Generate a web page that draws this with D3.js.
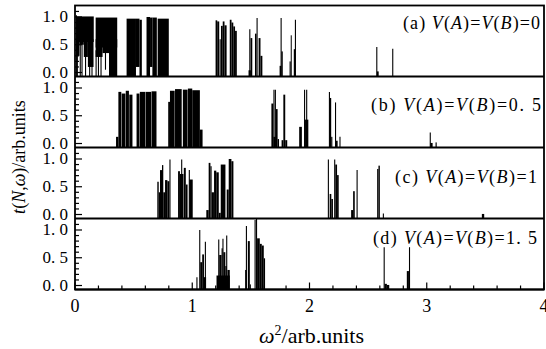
<!DOCTYPE html>
<html>
<head>
<meta charset="utf-8">
<script src="https://cdn.jsdelivr.net/npm/d3@7"></script>
<style>
  body { margin: 0; background: #fff; }
  svg { display: block; }
  text { font-family: "Liberation Serif", "Times New Roman", serif; fill: #000; }
</style>
</head>
<body>
<svg id="chart" width="546" height="349"></svg>
<script>
// Each segment: [x0, x1, lo, hi] in (omega^2, t). x0 === x1 -> a single spike.
const panelA = [
  [0.010, 0.160, 0.55, 1.01],
  [0.010, 0.038, 0.30, 0.60],
  [0.038, 0.075, 0.50, 0.60],
  [0.075, 0.110, 0.28, 0.60],
  [0.110, 0.158, 0.10, 0.60],
  [0.020, 0.020, 0.00, 0.40],
  [0.045, 0.045, 0.00, 0.55],
  [0.060, 0.060, 0.00, 0.55],
  [0.090, 0.090, 0.00, 0.30],
  [0.125, 0.125, 0.00, 0.20],
  [0.145, 0.145, 0.00, 0.20],
  [0.012, 0.012, 0.00, 1.03],
  [0.176, 0.360, 0.45, 0.99],
  [0.176, 0.235, 0.28, 0.60],
  [0.180, 0.180, 0.00, 0.40],
  [0.200, 0.200, 0.00, 0.30],
  [0.222, 0.222, 0.00, 0.30],
  [0.235, 0.290, 0.35, 0.60],
  [0.260, 0.260, 0.05, 0.50],
  [0.290, 0.360, 0.00, 0.60],
  [0.440, 0.520, 0.00, 0.97],
  [0.520, 0.550, 0.10, 0.97],
  [0.550, 0.570, 0.00, 0.95],
  [0.610, 0.640, 0.00, 1.00],
  [0.640, 0.660, 0.10, 0.99],
  [0.660, 0.698, 0.00, 0.99],
  [0.705, 0.800, 0.00, 0.97],
  [1.199, 1.213, 0.00, 0.94],
  [1.213, 1.230, 0.00, 0.92],
  [1.238, 1.238, 0.00, 0.60],
  [1.245, 1.260, 0.00, 0.84],
  [1.260, 1.275, 0.00, 0.92],
  [1.275, 1.293, 0.00, 0.85],
  [1.320, 1.335, 0.00, 0.95],
  [1.335, 1.350, 0.00, 0.90],
  [1.350, 1.365, 0.00, 0.83],
  [1.365, 1.380, 0.00, 0.75],
  [1.480, 1.500, 0.00, 0.04],
  [1.491, 1.491, 0.00, 0.78],
  [1.497, 1.512, 0.00, 0.62],
  [1.535, 1.548, 0.00, 0.70],
  [1.553, 1.553, 0.00, 0.98],
  [1.566, 1.582, 0.00, 0.62],
  [1.582, 1.598, 0.00, 0.30],
  [1.745, 1.760, 0.00, 0.12],
  [1.758, 1.758, 0.00, 0.98],
  [1.760, 1.772, 0.00, 0.38],
  [1.830, 1.840, 0.00, 0.20],
  [1.840, 1.848, 0.00, 0.67],
  [1.866, 1.878, 0.00, 0.42],
  [1.880, 1.880, 0.00, 0.95],
  [2.574, 2.574, 0.00, 0.46],
  [2.574, 2.590, 0.00, 0.02],
  [2.710, 2.710, 0.00, 0.43]
];

const panelB = [
  [0.350, 0.370, 0.00, 0.12],
  [0.370, 0.395, 0.00, 0.93],
  [0.398, 0.430, 0.00, 0.90],
  [0.433, 0.460, 0.00, 0.95],
  [0.463, 0.490, 0.00, 0.88],
  [0.525, 0.550, 0.00, 0.90],
  [0.553, 0.600, 0.00, 0.93],
  [0.603, 0.650, 0.00, 0.93],
  [0.653, 0.695, 0.00, 0.94],
  [0.795, 0.810, 0.00, 0.75],
  [0.810, 0.850, 0.00, 0.95],
  [0.853, 0.910, 0.00, 0.98],
  [0.920, 0.960, 0.00, 0.97],
  [0.963, 1.000, 0.00, 0.99],
  [1.000, 1.065, 0.00, 0.96],
  [1.065, 1.088, 0.00, 0.25],
  [1.675, 1.692, 0.00, 0.72],
  [1.697, 1.697, 0.00, 0.97],
  [1.692, 1.712, 0.00, 0.12],
  [1.709, 1.709, 0.00, 0.97],
  [1.714, 1.728, 0.00, 0.62],
  [1.728, 1.740, 0.00, 0.08],
  [1.762, 1.777, 0.00, 0.06],
  [1.777, 1.793, 0.00, 0.88],
  [1.793, 1.810, 0.00, 0.06],
  [1.912, 1.935, 0.00, 0.30],
  [1.958, 1.958, 0.00, 0.97],
  [1.962, 1.990, 0.00, 0.43],
  [1.976, 1.976, 0.00, 0.97],
  [2.170, 2.170, 0.00, 0.93],
  [2.172, 2.185, 0.00, 0.82],
  [2.185, 2.195, 0.00, 0.12],
  [2.222, 2.222, 0.00, 0.74],
  [2.225, 2.240, 0.00, 0.05],
  [2.260, 2.260, 0.00, 0.12],
  [3.030, 3.030, 0.00, 0.20],
  [3.030, 3.050, 0.00, 0.01],
  [3.075, 3.085, 0.00, 0.02]
];

const panelC = [
  [0.702, 0.714, 0.00, 0.59],
  [0.714, 0.725, 0.00, 0.40],
  [0.725, 0.742, 0.00, 0.80],
  [0.742, 0.753, 0.00, 0.89],
  [0.753, 0.768, 0.00, 0.40],
  [0.768, 0.788, 0.00, 0.62],
  [0.788, 0.805, 0.00, 0.60],
  [0.810, 0.810, 0.00, 0.99],
  [0.879, 0.895, 0.00, 0.78],
  [0.910, 0.910, 0.00, 0.99],
  [0.895, 0.925, 0.00, 0.73],
  [0.928, 0.945, 0.00, 0.84],
  [0.945, 0.960, 0.00, 0.54],
  [0.975, 0.975, 0.00, 0.80],
  [0.975, 1.004, 0.00, 0.63],
  [1.120, 1.140, 0.00, 0.08],
  [1.140, 1.155, 0.00, 0.93],
  [1.155, 1.165, 0.00, 0.87],
  [1.165, 1.185, 0.00, 0.40],
  [1.186, 1.205, 0.00, 0.79],
  [1.205, 1.226, 0.00, 0.76],
  [1.226, 1.243, 0.00, 0.03],
  [1.243, 1.283, 0.00, 0.90],
  [1.294, 1.311, 0.00, 0.45],
  [1.311, 1.334, 0.00, 1.00],
  [1.334, 1.351, 0.00, 0.96],
  [2.161, 2.161, 0.00, 0.99],
  [2.172, 2.186, 0.00, 0.37],
  [2.186, 2.200, 0.00, 0.28],
  [2.215, 2.215, 0.00, 0.99],
  [2.220, 2.235, 0.00, 0.90],
  [2.235, 2.249, 0.00, 0.71],
  [2.355, 2.372, 0.00, 0.08],
  [2.372, 2.386, 0.00, 0.42],
  [2.406, 2.406, 0.00, 0.80],
  [2.577, 2.588, 0.00, 0.82],
  [2.588, 2.600, 0.00, 0.88],
  [2.630, 2.630, 0.00, 0.02],
  [3.470, 3.490, 0.00, 0.01]
];

const panelD = [
  [1.040, 1.040, 0.00, 0.15],
  [1.064, 1.064, 0.00, 1.00],
  [1.068, 1.085, 0.00, 0.42],
  [1.085, 1.100, 0.00, 0.56],
  [1.100, 1.118, 0.00, 0.15],
  [1.112, 1.112, 0.00, 0.79],
  [1.207, 1.320, 0.00, 0.18],
  [1.226, 1.226, 0.00, 0.83],
  [1.230, 1.250, 0.00, 0.55],
  [1.250, 1.260, 0.00, 0.67],
  [1.262, 1.262, 0.00, 0.84],
  [1.265, 1.282, 0.00, 0.60],
  [1.282, 1.294, 0.00, 0.35],
  [1.294, 1.294, 0.00, 0.90],
  [1.300, 1.320, 0.00, 0.28],
  [1.451, 1.462, 0.00, 0.28],
  [1.462, 1.462, 0.00, 1.07],
  [1.474, 1.491, 0.00, 0.80],
  [1.491, 1.500, 0.00, 0.02],
  [1.536, 1.536, 0.00, 1.18],
  [1.543, 1.553, 0.00, 1.20],
  [1.553, 1.576, 0.00, 0.85],
  [1.576, 1.593, 0.00, 0.75],
  [1.593, 1.610, 0.00, 0.72],
  [1.610, 1.621, 0.00, 0.49],
  [2.637, 2.637, 0.00, 0.69],
  [2.640, 2.660, 0.00, 0.03],
  [2.660, 2.680, 0.00, 0.01],
  [2.830, 2.848, 0.00, 0.26],
  [2.853, 2.853, 0.00, 0.69]
];

const panelTags = ["(a)", "(b)", "(c)", "(d)"];
const panelValues = ["0", "0. 5", "1", "1. 5"];
const yTickValues = [0, 0.5, 1.0];
const yTickLabels = ["0. 0", "0. 5", "1. 0"];
const xTickValues = [0, 1, 2, 3, 4];

const series = [panelA, panelB, panelC, panelD];

const svg = d3.select("#chart");
const plotLeft = 75, plotRight = 544, plotTop = 5.5, panelH = 71;
// tag layout: left edge, width, vertical position in t units
const tagLayout = [
  { x: 403, w: 137, t: 0.775 },
  { x: 371, w: 170, t: 0.58 },
  { x: 395, w: 142, t: 0.57 },
  { x: 373, w: 164, t: 0.75 }
];

const x = d3.scaleLinear().domain([0, 4]).range([plotLeft, plotRight]);

series.forEach((segs, i) => {
  const y0 = plotTop + panelH * (i + 1);
  const y = d3.scaleLinear().domain([-0.072, 1.207]).range([y0, y0 - panelH]);
  const yLo = (v) => (v <= 0 ? y0 : y(v));
  const g = svg.append("g");

  const bars = segs.filter((s) => s[1] > s[0]);
  const spikes = segs.filter((s) => s[1] <= s[0]);

  g.selectAll("rect.bar")
    .data(bars)
    .join("rect")
    .attr("x", (s) => x(s[0]))
    .attr("width", (s) => Math.max(1, x(s[1]) - x(s[0])))
    .attr("y", (s) => y(s[3]))
    .attr("height", (s) => yLo(s[2]) - y(s[3]))
    .attr("fill", "#000");

  g.selectAll("line.spike")
    .data(spikes)
    .join("line")
    .attr("x1", (s) => x(s[0]))
    .attr("x2", (s) => x(s[0]))
    .attr("y1", (s) => yLo(s[2]))
    .attr("y2", (s) => y(s[3]))
    .attr("stroke", "#000")
    .attr("stroke-width", 1.1);

  // y axis: ticks point inwards
  const minor = d3.range(0, 12).map((k) => k / 10);
  g.selectAll("line.ymin")
    .data(minor)
    .join("line")
    .attr("x1", plotLeft)
    .attr("x2", (v) => plotLeft + (v === 0 || v === 0.5 || v === 1 ? 7 : 4))
    .attr("y1", (v) => y(v))
    .attr("y2", (v) => y(v))
    .attr("stroke", "#000")
    .attr("stroke-width", 1.2);

  g.selectAll("text.ylab")
    .data(yTickValues)
    .join("text")
    .attr("x", plotLeft - 7)
    .attr("y", (v) => y(v) + 5.5)
    .attr("text-anchor", "end")
    .attr("font-size", 17)
    .text((v, k) => yTickLabels[k]);

  // frame line below the panel
  g.append("line")
    .attr("x1", plotLeft).attr("x2", plotRight)
    .attr("y1", y0).attr("y2", y0)
    .attr("stroke", "#000").attr("stroke-width", 1.8);

  // panel tag
  const lay = tagLayout[i];
  const t = g.append("text")
    .attr("x", lay.x)
    .attr("y", y(lay.t))
    .attr("font-size", 18)
    .attr("textLength", lay.w)
    .attr("lengthAdjust", "spacing");
  t.append("tspan").text(panelTags[i] + " ");
  t.append("tspan").attr("font-style", "italic").text("V");
  t.append("tspan").text("(");
  t.append("tspan").attr("font-style", "italic").text("A");
  t.append("tspan").text(")=");
  t.append("tspan").attr("font-style", "italic").text("V");
  t.append("tspan").text("(");
  t.append("tspan").attr("font-style", "italic").text("B");
  t.append("tspan").text(")=" + panelValues[i]);
});

const plotBottom = plotTop + panelH * 4;

// outer frame
svg.append("rect")
  .attr("x", plotLeft).attr("y", plotTop)
  .attr("width", plotRight - plotLeft).attr("height", plotBottom - plotTop)
  .attr("fill", "none").attr("stroke", "#000").attr("stroke-width", 1.8);

// x axis ticks (inward)
const xMinor = d3.range(0, 21).map((k) => k / 5);
svg.selectAll("line.xt")
  .data(xMinor)
  .join("line")
  .attr("x1", (v) => x(v))
  .attr("x2", (v) => x(v))
  .attr("y1", plotBottom)
  .attr("y2", (v) => plotBottom - (Math.abs(v - Math.round(v)) < 1e-6 ? 7 : 4))
  .attr("stroke", "#000")
  .attr("stroke-width", 1.2);

svg.selectAll("text.xl")
  .data(xTickValues)
  .join("text")
  .attr("x", (v) => x(v))
  .attr("y", plotBottom + 22)
  .attr("text-anchor", "middle")
  .attr("font-size", 18)
  .text((v) => v);

// axis titles
const xt = svg.append("text")
  .attr("x", (plotLeft + plotRight) / 2 + 2)
  .attr("y", 343)
  .attr("text-anchor", "middle")
  .attr("font-size", 22);
xt.append("tspan").attr("font-style", "italic").text("ω");
xt.append("tspan").attr("font-size", 14).attr("dy", -8).text("2");
xt.append("tspan").attr("dy", 8).text("/arb.units");

const yt = svg.append("text")
  .attr("transform", "translate(25,157) rotate(-90)")
  .attr("text-anchor", "middle")
  .attr("font-size", 18);
yt.append("tspan").attr("font-style", "italic").text("t");
yt.append("tspan").text("(");
yt.append("tspan").attr("font-style", "italic").text("N");
yt.append("tspan").text(",");
yt.append("tspan").attr("font-style", "italic").text("ω");
yt.append("tspan").text(")/arb.units");
</script>
</body>
</html>
